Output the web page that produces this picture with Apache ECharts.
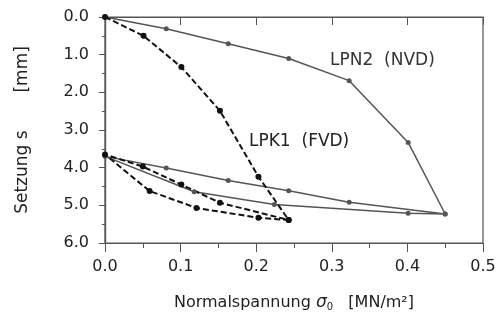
<!DOCTYPE html>
<html>
<head>
<meta charset="utf-8">
<script src="https://cdn.jsdelivr.net/npm/echarts@6/dist/echarts.min.js"></script>
<style>
html, body { margin: 0; padding: 0; background: #fff; }
#chart { width: 500px; height: 324px; }
</style>
</head>
<body>
<div id="chart"></div>
<script>
// LPN2 (NVD): Erstbelastung, Entlastung, Wiederbelastung
var lpn2Sigma = [0, 0.081, 0.163, 0.243, 0.323, 0.401, 0.45, 0.401, 0.224, 0.118, 0, 0.081, 0.163, 0.243, 0.323, 0.45];
var lpn2Setz  = [0, 0.31, 0.71, 1.10, 1.69, 3.33, 5.23, 5.21, 4.98, 4.64, 3.70, 4.01, 4.34, 4.61, 4.92, 5.23];

// LPK1 (FVD)
var lpk1Sigma = [0, 0.051, 0.101, 0.152, 0.203, 0.243, 0.203, 0.121, 0.059, 0, 0.050, 0.101, 0.152, 0.243];
var lpk1Setz  = [0, 0.50, 1.33, 2.49, 4.24, 5.39, 5.33, 5.07, 4.62, 3.65, 3.97, 4.45, 4.93, 5.39];

var xTicks = [0, 0.1, 0.2, 0.3, 0.4, 0.5];
var yTicks = [0, 1, 2, 3, 4, 5, 6];

var FONT = 'DejaVu Sans';
var AXIS_COLOR = '#555';

function pairs(xs, ys) {
    var out = [];
    for (var i = 0; i < xs.length; i++) {
        out.push([xs[i], ys[i]]);
    }
    return out;
}

var tickLabel = {
    margin: 16,
    fontFamily: FONT,
    fontSize: 16,
    color: '#222',
    formatter: function (v) { return v.toFixed(1); }
};

var chart = echarts.init(document.getElementById('chart'));

var option = {
    animation: false,
    backgroundColor: '#fff',
    // Rahmen oben/rechts ueber den Grid-Rand
    grid: {
        left: 105, right: 17, top: 17, bottom: 81,
        outerBoundsMode: 'none',
        show: true,
        borderColor: AXIS_COLOR,
        borderWidth: 1.2
    },
    xAxis: [
        {
            type: 'value',
            position: 'bottom',
            min: xTicks[0],
            max: xTicks[xTicks.length - 1],
            interval: 0.1,
            name: '{n|Normalspannung }{s|σ}{sub|0}{n|   [MN/m²]}',
            nameLocation: 'middle',
            nameGap: 51,
            nameTextStyle: {
                rich: {
                    n: { fontFamily: FONT, fontSize: 16, color: '#222' },
                    s: { fontFamily: FONT, fontSize: 17, fontStyle: 'italic', color: '#222' },
                    sub: { fontFamily: FONT, fontSize: 10, color: '#222', padding: [8, 0, 0, 0] }
                }
            },
            axisLine: { show: true, onZero: false, lineStyle: { color: AXIS_COLOR, width: 1.2 } },
            axisTick: { show: true, length: 9, lineStyle: { color: AXIS_COLOR } },
            minorTick: { show: true, splitNumber: 2, length: 5, lineStyle: { color: AXIS_COLOR } },
            axisLabel: tickLabel,
            splitLine: { show: false }
        },
        {
            type: 'value',
            position: 'top',
            min: xTicks[0],
            max: xTicks[xTicks.length - 1],
            interval: 0.1,
            axisLine: { show: true, lineStyle: { color: AXIS_COLOR, width: 1.2 } },
            axisTick: { show: true, inside: true, length: 8, lineStyle: { color: AXIS_COLOR } },
            axisLabel: { show: false },
            splitLine: { show: false }
        }
    ],
    yAxis: [
        {
            type: 'value',
            position: 'left',
            inverse: true,
            min: yTicks[0],
            max: yTicks[yTicks.length - 1],
            interval: 1,
            name: 'Setzung s       [mm]',
            nameLocation: 'middle',
            nameGap: 74,
            nameRotate: 90,
            nameTextStyle: { fontFamily: FONT, fontSize: 17, color: '#222' },
            axisLine: { show: true, onZero: false, lineStyle: { color: AXIS_COLOR, width: 1.2 } },
            axisTick: { show: true, length: 6, lineStyle: { color: AXIS_COLOR } },
            minorTick: { show: true, splitNumber: 2, length: 3, lineStyle: { color: AXIS_COLOR } },
            axisLabel: tickLabel,
            splitLine: { show: false }
        },
        {
            type: 'value',
            position: 'right',
            inverse: true,
            min: yTicks[0],
            max: yTicks[yTicks.length - 1],
            interval: 1,
            axisLine: { show: true, onZeroAxisIndex: 1, lineStyle: { color: AXIS_COLOR, width: 1.2 } },
            axisTick: { show: true, inside: true, length: 6, lineStyle: { color: AXIS_COLOR } },
            axisLabel: { show: false },
            splitLine: { show: false }
        }
    ],
    graphic: [
        {
            type: 'text',
            left: 330,
            top: 52,
            style: { text: 'LPN2  (NVD)', font: '17px "DejaVu Sans"', fill: '#333' }
        },
        {
            type: 'text',
            left: 249,
            top: 133,
            style: { text: 'LPK1  (FVD)', font: '17px "DejaVu Sans"', fill: '#222' }
        }
    ],
    series: [
        {
            name: 'LPN2 (NVD)',
            type: 'line',
            xAxisIndex: 0,
            yAxisIndex: 0,
            data: pairs(lpn2Sigma, lpn2Setz),
            symbol: 'circle',
            symbolSize: 5,
            lineStyle: { color: '#555', width: 1.5 },
            itemStyle: { color: '#555' }
        },
        {
            name: 'LPK1 (FVD)',
            type: 'line',
            xAxisIndex: 0,
            yAxisIndex: 0,
            data: pairs(lpk1Sigma, lpk1Setz),
            symbol: 'circle',
            symbolSize: 6,
            lineStyle: { color: '#111', width: 2, type: [6, 3] },
            itemStyle: { color: '#111' }
        }
    ]
};

chart.setOption(option);
window.onresize = chart.resize;
</script>
</body>
</html>
